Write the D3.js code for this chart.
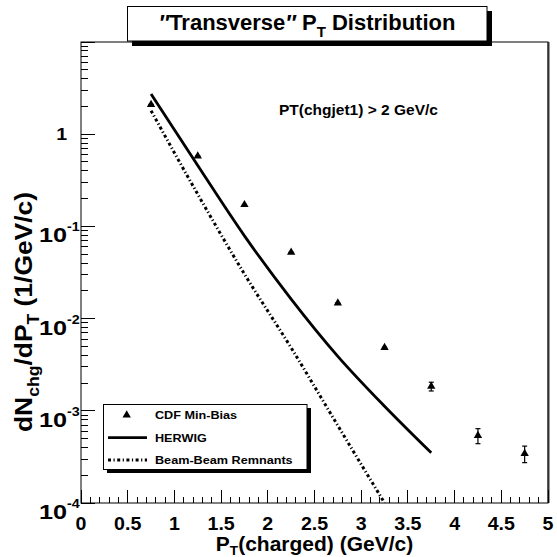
<!DOCTYPE html>
<html>
<head>
<meta charset="utf-8">
<script src="https://cdn.jsdelivr.net/npm/d3@7"></script>
<style>
  html, body { margin: 0; padding: 0; background: #fff; }
  svg { display: block; }
  text { font-family: "Liberation Sans", Arial, Helvetica, sans-serif; font-weight: bold; fill: #000; }
</style>
</head>
<body>
<script>
// Charged particle pT spectrum in the "transverse" region
const ptBins      = [0.75, 1.25, 1.75, 2.25, 2.75, 3.25, 3.75, 4.25, 4.75];
const cdfMinBias  = [2.1, 0.58, 0.172, 0.0522, 0.0147, 0.00486, 0.00184, 0.00054, 0.000344];
const cdfErr      = [0.01, 0.003, 0.001, 0.0003, 0.0001, 0.00005, 0.0002, 0.0001, 0.00007];

const herwigPt    = [0.75, 1.25, 1.75, 2.25, 2.75, 3.25, 3.75];
const herwig      = [2.73, 0.457, 0.079, 0.0163, 0.0039, 0.00112, 0.00035];

const bbrPt       = [0.75, 1.25, 1.75, 2.25, 2.75, 3.25];
const beamRemnant = [1.8, 0.223, 0.0304, 0.00482, 0.00069, 0.0001];

const xTickValues = [0, 0.5, 1, 1.5, 2, 2.5, 3, 3.5, 4, 4.5, 5];
const xTickLabels = ["0", "0.5", "1", "1.5", "2", "2.5", "3", "3.5", "4", "4.5", "5"];
const yDecades    = [1e-4, 1e-3, 1e-2, 1e-1, 1];
const yBase       = ["10", "10", "10", "10", "1"];
const yExponent   = ["-4", "-3", "-2", "-1", ""];

const legendLabels = ["CDF Min-Bias", "HERWIG", "Beam-Beam Remnants"];

const W = 557, H = 557;
const svg = d3.select("body").append("svg").attr("width", W).attr("height", H);

const x = d3.scaleLinear().domain([0, 5]).range([81, 548]);
const y = d3.scaleLog().domain([1e-4, 10]).range([503, 42]);

// horizontally stretched text helper
function stext(g, px, py, sx, anchor, size) {
  const grp = g.append("g").attr("transform", `translate(${px},${py}) scale(${sx},1)`);
  return grp.append("text").attr("text-anchor", anchor).attr("font-size", size);
}

// frame
svg.append("rect").attr("x", x(0)).attr("y", y(10)).attr("width", x(5) - x(0)).attr("height", y(1e-4) - y(10))
  .attr("fill", "none").attr("stroke", "#000").attr("stroke-width", 1);
svg.append("line").attr("x1", x(5) + 0.5).attr("x2", x(5) + 0.5).attr("y1", y(10)).attr("y2", y(1e-4))
  .attr("stroke", "#333").attr("stroke-width", 2);

// x ticks: major every 0.5, minor every 0.1
const xMinor = d3.range(0, 51).map(i => i / 10);
svg.append("g").selectAll("line").data(xMinor).join("line")
  .attr("x1", d => x(d)).attr("x2", d => x(d))
  .attr("y1", y(1e-4)).attr("y2", (d, i) => y(1e-4) - (i % 5 === 0 ? 13 : 6.5))
  .attr("stroke", "#000").attr("stroke-width", 1).attr("shape-rendering", "crispEdges");

// y ticks: long at decades, short at 2..9
const yMinor = [];
for (let e = -4; e < 1; e++) for (let m = 1; m <= 9; m++) yMinor.push(m * Math.pow(10, e));
yMinor.push(10);
svg.append("g").selectAll("line").data(yMinor).join("line")
  .attr("x1", x(0)).attr("x2", d => x(0) + (Math.abs(Math.log10(d) - Math.round(Math.log10(d))) < 1e-9 ? 14 : 7))
  .attr("y1", d => y(d)).attr("y2", d => y(d))
  .attr("stroke", "#000").attr("stroke-width", 1).attr("shape-rendering", "crispEdges");

// x tick labels
xTickValues.forEach((v, i) => {
  stext(svg, x(v), 529.5, 1.12, "middle", 17.5).text(xTickLabels[i]);
});

// y tick labels
yDecades.forEach((v, i) => {
  if (yExponent[i] === "") {
    stext(svg, 67, y(v) + 6, 1.15, "end", 17).text(yBase[i]);
  } else {
    stext(svg, 67, y(v) + 16, 1.2, "end", 21).text(yBase[i]);
    stext(svg, 67, y(v) + 5, 1.1, "start", 13).text(yExponent[i]);
  }
});

// axis titles
const xt = stext(svg, (x(0) + x(5)) / 2, 551, 1.05, "middle", 20);
xt.append("tspan").text("P");
xt.append("tspan").attr("font-size", 13).attr("dy", 4).text("T");
xt.append("tspan").attr("dy", -4).text("(charged) (GeV/c)");

const ytg = svg.append("g").attr("transform", "translate(32,312) rotate(-90) scale(1.1,1)");
const yt = ytg.append("text").attr("text-anchor", "middle").attr("font-size", 24);
yt.append("tspan").text("dN");
yt.append("tspan").attr("font-size", 16).attr("dy", 7).text("chg");
yt.append("tspan").attr("dy", -7).text("/dP");
yt.append("tspan").attr("font-size", 16).attr("dy", 7).text("T");
yt.append("tspan").attr("dy", -7).text(" (1/GeV/c)");

// plot contents, clipped to the frame
svg.append("clipPath").attr("id", "frameClip").append("rect")
  .attr("x", x(0)).attr("y", y(10)).attr("width", x(5) - x(0)).attr("height", y(1e-4) - y(10));
const plot = svg.append("g").attr("clip-path", "url(#frameClip)");

const line = d3.line().x(d => x(d[0])).y(d => y(d[1])).curve(d3.curveMonotoneX);

plot.append("path").datum(herwigPt.map((p, i) => [p, herwig[i]]))
  .attr("d", line).attr("fill", "none").attr("stroke", "#000").attr("stroke-width", 2.8);

plot.append("path").datum(bbrPt.map((p, i) => [p, beamRemnant[i]]))
  .attr("d", line).attr("fill", "none").attr("stroke", "#000").attr("stroke-width", 3)
  .attr("stroke-dasharray", "3,2.5,1.2,2.5");

// data points with error bars
const tri = d3.symbol().type(d3.symbolTriangle).size(30);
const pts = plot.append("g").selectAll("g").data(ptBins.map((p, i) => ({ p, v: cdfMinBias[i], e: cdfErr[i] }))).join("g");
pts.append("line").attr("x1", d => x(d.p)).attr("x2", d => x(d.p))
  .attr("y1", d => y(d.v + d.e)).attr("y2", d => y(d.v - d.e)).attr("stroke", "#000").attr("stroke-width", 1.2);
pts.append("line").attr("x1", d => x(d.p) - 2.5).attr("x2", d => x(d.p) + 2.5)
  .attr("y1", d => y(d.v + d.e)).attr("y2", d => y(d.v + d.e)).attr("stroke", "#000").attr("stroke-width", 1.2);
pts.append("line").attr("x1", d => x(d.p) - 2.5).attr("x2", d => x(d.p) + 2.5)
  .attr("y1", d => y(d.v - d.e)).attr("y2", d => y(d.v - d.e)).attr("stroke", "#000").attr("stroke-width", 1.2);
pts.append("path").attr("d", tri).attr("transform", d => `translate(${x(d.p)},${y(d.v)})`).attr("fill", "#000");

// selection label
stext(svg, 279, 114.5, 1.0, "start", 15.5).text("PT(chgjet1) > 2 GeV/c");

// title box with drop shadow
svg.append("rect").attr("x", 132).attr("y", 11).attr("width", 360).attr("height", 35).attr("fill", "#000");
svg.append("rect").attr("x", 127.5).attr("y", 6.5).attr("width", 359.5).attr("height", 34.5)
  .attr("fill", "#fff").attr("stroke", "#000").attr("stroke-width", 1);
const tt = stext(svg, 307, 30, 1.0, "middle", 22);
tt.append("tspan").attr("font-style", "italic").text("\u2033");
tt.append("tspan").text("Transverse");
tt.append("tspan").attr("font-style", "italic").text("\u2033");
tt.append("tspan").text(" P");
tt.append("tspan").attr("font-size", 15).attr("dy", 7).text("T");
tt.append("tspan").attr("dy", -7).text(" Distribution");

// legend box with drop shadow
svg.append("rect").attr("x", 107).attr("y", 408).attr("width", 204).attr("height", 65).attr("fill", "#000");
svg.append("rect").attr("x", 103.5).attr("y", 404.5).attr("width", 203.5).attr("height", 65)
  .attr("fill", "#fff").attr("stroke", "#000").attr("stroke-width", 1);

const legY = [415, 437.7, 460];
svg.append("path").attr("d", tri).attr("transform", `translate(126.7,${legY[0]})`).attr("fill", "#000");
svg.append("line").attr("x1", 108).attr("x2", 147).attr("y1", legY[1]).attr("y2", legY[1])
  .attr("stroke", "#000").attr("stroke-width", 2.8);
svg.append("line").attr("x1", 108).attr("x2", 147).attr("y1", legY[2]).attr("y2", legY[2])
  .attr("stroke", "#000").attr("stroke-width", 3).attr("stroke-dasharray", "3,2.5,1.2,2.5");
legendLabels.forEach((t, i) => {
  stext(svg, 155, legY[i] + 4.2, 1.09, "start", 11.6).text(t);
});
</script>
</body>
</html>
